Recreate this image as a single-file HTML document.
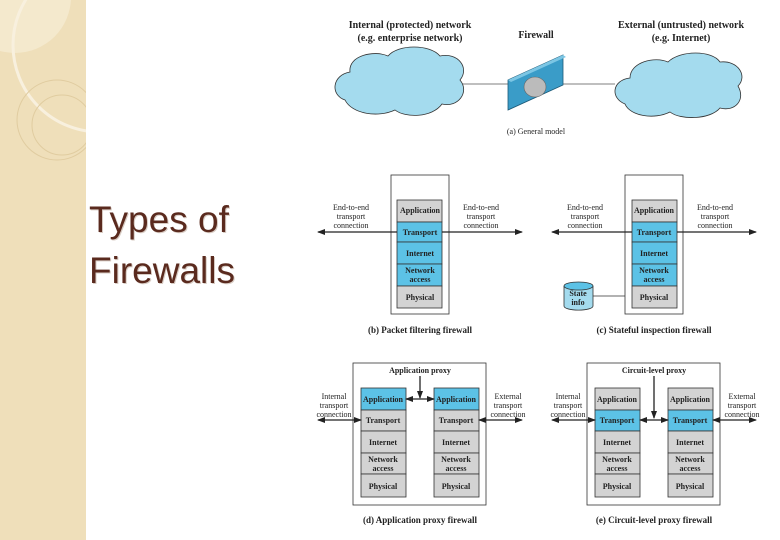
<!DOCTYPE html>
<html><head><meta charset="utf-8"><style>
body{margin:0;width:780px;height:540px;overflow:hidden;background:#fff}
svg{display:block}
.t{font-family:"Liberation Serif",serif;font-size:8px;fill:#222;text-anchor:middle}
.b{font-weight:bold}
.h{font-family:"Liberation Serif",serif;font-size:10px;font-weight:bold;fill:#222;text-anchor:middle}
</style></head><body>
<svg width="780" height="540" viewBox="0 0 780 540" xmlns="http://www.w3.org/2000/svg">
<defs>
<marker id="a" markerWidth="8" markerHeight="6" refX="7" refY="3" orient="auto-start-reverse" markerUnits="userSpaceOnUse"><path d="M0,0 L8,3 L0,6 Z" fill="#222"/></marker>
<clipPath id="cp"><rect x="0" y="0" width="86" height="540"/></clipPath>
</defs>
<rect x="0" y="0" width="86" height="540" fill="#efdfba"/>
<g clip-path="url(#cp)">
<circle cx="15" cy="-3" r="56" fill="#f6ecd5" opacity="0.7"/>
<circle cx="100" cy="45" r="87" fill="none" stroke="#f8f0de" stroke-width="3"/>
<circle cx="57" cy="120" r="40" fill="none" stroke="#e0cca0" stroke-width="1"/>
<circle cx="62" cy="125" r="30" fill="none" stroke="#e0cca0" stroke-width="1"/>
</g>
<text x="90" y="233" font-family="Liberation Sans,sans-serif" font-size="37" fill="#d8ccc4">Types of</text>
<text x="90" y="284" font-family="Liberation Sans,sans-serif" font-size="37" fill="#d8ccc4">Firewalls</text>
<text x="89" y="232" font-family="Liberation Sans,sans-serif" font-size="37" fill="#5a2a1e">Types of</text>
<text x="89" y="283" font-family="Liberation Sans,sans-serif" font-size="37" fill="#5a2a1e">Firewalls</text>

<!-- (a) -->
<text class="h" x="410" y="28">Internal (protected) network</text>
<text class="h" x="410" y="41">(e.g. enterprise network)</text>
<text class="h" x="536" y="38">Firewall</text>
<text class="h" x="681" y="28">External (untrusted) network</text>
<text class="h" x="681" y="41">(e.g. Internet)</text>
<line x1="460" y1="84" x2="615" y2="84" stroke="#aaa" stroke-width="1.5"/>
<path d="M345,100 C330,95 332,75 350,72 C348,55 375,50 388,56 C398,44 430,44 440,56 C458,52 470,68 460,80 C470,92 458,108 442,104 C432,118 405,118 395,110 C378,118 352,114 345,100 Z" fill="#a4dbee" stroke="#333" stroke-width="0.8"/>
<path d="M625,104 C610,98 612,80 630,78 C630,62 655,56 668,62 C680,50 712,50 720,62 C738,60 748,76 738,86 C746,100 735,112 720,108 C710,120 680,120 670,112 C654,120 630,116 625,104 Z" fill="#a4dbee" stroke="#333" stroke-width="0.8"/>
<polygon points="508,80 563,55 563,85 508,110" fill="#3a9cc8" stroke="#1d5a78" stroke-width="0.8"/>
<polygon points="508,80 563,55 566,57 511,82" fill="#7cc6e4"/>
<ellipse cx="535" cy="87" rx="11" ry="10" fill="#bbb" stroke="#666" stroke-width="0.6"/>
<text class="t" x="536" y="134" font-size="9">(a) General model</text>

<g stroke="#333" stroke-width="0.8">
<rect x="391" y="175" width="58" height="139" fill="none"/>
<rect x="397" y="200" width="45" height="22" fill="#d3d3d3"/>
<rect x="397" y="222" width="45" height="20" fill="#5cc2e6"/>
<rect x="397" y="242" width="45" height="22" fill="#5cc2e6"/>
<rect x="397" y="264" width="45" height="22" fill="#5cc2e6"/>
<rect x="397" y="286" width="45" height="22" fill="#d3d3d3"/>
<rect x="625" y="175" width="58" height="139" fill="none"/>
<rect x="632" y="200" width="45" height="22" fill="#d3d3d3"/>
<rect x="632" y="222" width="45" height="20" fill="#5cc2e6"/>
<rect x="632" y="242" width="45" height="22" fill="#5cc2e6"/>
<rect x="632" y="264" width="45" height="22" fill="#5cc2e6"/>
<rect x="632" y="286" width="45" height="22" fill="#d3d3d3"/>
<path d="M564,286 v20 a14,4 0 0 0 29,0 v-20" fill="#a4dbee"/>
<ellipse cx="578.5" cy="286" rx="14.5" ry="4" fill="#5cc2e6"/>
<line x1="593" y1="296" x2="625" y2="296"/>
<rect x="353" y="363" width="133" height="142" fill="none"/>
<rect x="361" y="388" width="45" height="22" fill="#5cc2e6"/>
<rect x="361" y="410" width="45" height="21" fill="#d3d3d3"/>
<rect x="361" y="431" width="45" height="22" fill="#d3d3d3"/>
<rect x="361" y="453" width="45" height="21" fill="#d3d3d3"/>
<rect x="361" y="474" width="45" height="23" fill="#d3d3d3"/>
<rect x="434" y="388" width="45" height="22" fill="#5cc2e6"/>
<rect x="434" y="410" width="45" height="21" fill="#d3d3d3"/>
<rect x="434" y="431" width="45" height="22" fill="#d3d3d3"/>
<rect x="434" y="453" width="45" height="21" fill="#d3d3d3"/>
<rect x="434" y="474" width="45" height="23" fill="#d3d3d3"/>
<rect x="587" y="363" width="133" height="142" fill="none"/>
<rect x="595" y="388" width="45" height="22" fill="#d3d3d3"/>
<rect x="595" y="410" width="45" height="21" fill="#5cc2e6"/>
<rect x="595" y="431" width="45" height="22" fill="#d3d3d3"/>
<rect x="595" y="453" width="45" height="21" fill="#d3d3d3"/>
<rect x="595" y="474" width="45" height="23" fill="#d3d3d3"/>
<rect x="668" y="388" width="45" height="22" fill="#d3d3d3"/>
<rect x="668" y="410" width="45" height="21" fill="#5cc2e6"/>
<rect x="668" y="431" width="45" height="22" fill="#d3d3d3"/>
<rect x="668" y="453" width="45" height="21" fill="#d3d3d3"/>
<rect x="668" y="474" width="45" height="23" fill="#d3d3d3"/>
</g>
<g stroke="#222" stroke-width="1.3">
<line x1="318" y1="232" x2="397" y2="232" marker-start="url(#a)"/>
<line x1="442" y1="232" x2="522" y2="232" marker-end="url(#a)"/>
<line x1="552" y1="232" x2="632" y2="232" marker-start="url(#a)"/>
<line x1="677" y1="232" x2="756" y2="232" marker-end="url(#a)"/>
<line x1="318" y1="420" x2="361" y2="420" marker-start="url(#a)" marker-end="url(#a)"/>
<line x1="479" y1="420" x2="522" y2="420" marker-start="url(#a)" marker-end="url(#a)"/>
<line x1="406" y1="399" x2="434" y2="399" marker-start="url(#a)" marker-end="url(#a)"/>
<line x1="420" y1="376" x2="420" y2="398" marker-end="url(#a)"/>
<line x1="552" y1="420" x2="595" y2="420" marker-start="url(#a)" marker-end="url(#a)"/>
<line x1="713" y1="420" x2="756" y2="420" marker-start="url(#a)" marker-end="url(#a)"/>
<line x1="640" y1="420" x2="668" y2="420" marker-start="url(#a)" marker-end="url(#a)"/>
<line x1="654" y1="376" x2="654" y2="418" marker-end="url(#a)"/>
</g>
<g class="t b">
<text x="420" y="213">Application</text><text x="420" y="235">Transport</text><text x="420" y="256">Internet</text><text x="420" y="273">Network</text><text x="420" y="282">access</text><text x="420" y="300">Physical</text>
<text x="654" y="213">Application</text><text x="654" y="235">Transport</text><text x="654" y="256">Internet</text><text x="654" y="273">Network</text><text x="654" y="282">access</text><text x="654" y="300">Physical</text>
<text x="578" y="296">State</text><text x="578" y="305">info</text>
<text x="383" y="402">Application</text><text x="383" y="423">Transport</text><text x="383" y="445">Internet</text><text x="383" y="462">Network</text><text x="383" y="471">access</text><text x="383" y="489">Physical</text>
<text x="456" y="402">Application</text><text x="456" y="423">Transport</text><text x="456" y="445">Internet</text><text x="456" y="462">Network</text><text x="456" y="471">access</text><text x="456" y="489">Physical</text>
<text x="617" y="402">Application</text><text x="617" y="423">Transport</text><text x="617" y="445">Internet</text><text x="617" y="462">Network</text><text x="617" y="471">access</text><text x="617" y="489">Physical</text>
<text x="690" y="402">Application</text><text x="690" y="423">Transport</text><text x="690" y="445">Internet</text><text x="690" y="462">Network</text><text x="690" y="471">access</text><text x="690" y="489">Physical</text>
<text x="420" y="373">Application proxy</text><text x="654" y="373">Circuit-level proxy</text>
</g>
<g class="t">
<text x="351" y="210">End-to-end</text><text x="351" y="219">transport</text><text x="351" y="228">connection</text>
<text x="481" y="210">End-to-end</text><text x="481" y="219">transport</text><text x="481" y="228">connection</text>
<text x="585" y="210">End-to-end</text><text x="585" y="219">transport</text><text x="585" y="228">connection</text>
<text x="715" y="210">End-to-end</text><text x="715" y="219">transport</text><text x="715" y="228">connection</text>
<text x="334" y="399">Internal</text><text x="334" y="408">transport</text><text x="334" y="417">connection</text>
<text x="508" y="399">External</text><text x="508" y="408">transport</text><text x="508" y="417">connection</text>
<text x="568" y="399">Internal</text><text x="568" y="408">transport</text><text x="568" y="417">connection</text>
<text x="742" y="399">External</text><text x="742" y="408">transport</text><text x="742" y="417">connection</text>
<text x="420" y="333" font-size="9" class="b">(b) Packet filtering firewall</text>
<text x="654" y="333" font-size="9" class="b">(c) Stateful inspection firewall</text>
<text x="420" y="523" font-size="9" class="b">(d) Application proxy firewall</text>
<text x="654" y="523" font-size="9" class="b">(e) Circuit-level proxy firewall</text>
</g>
</svg>
</body></html>
